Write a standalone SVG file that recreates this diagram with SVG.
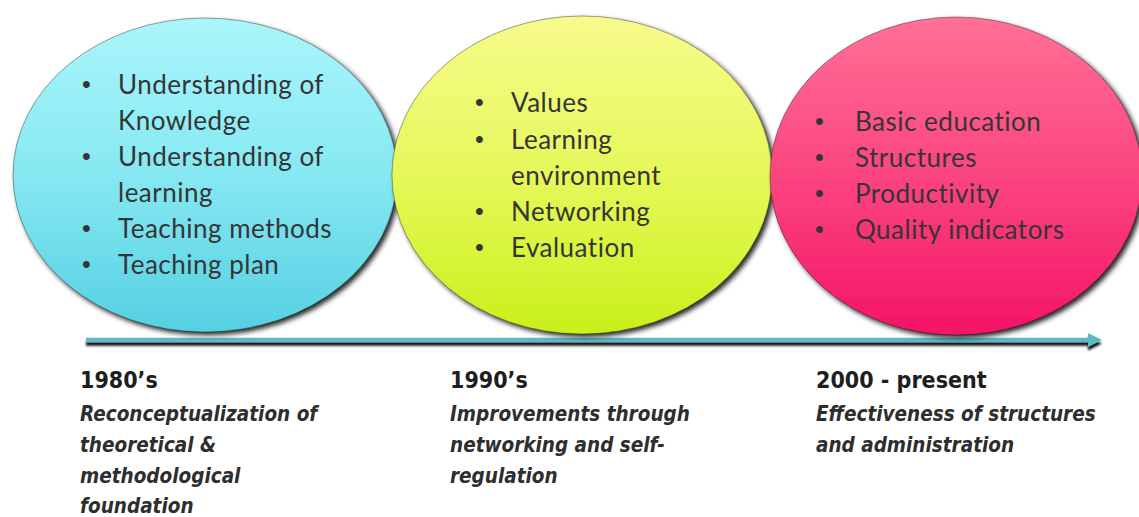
<svg xmlns="http://www.w3.org/2000/svg" width="1139" height="517" viewBox="0 0 1139 517">
<defs>
<linearGradient id="gCyan" x1="0" y1="0" x2="0" y2="1">
<stop offset="0" stop-color="#aaf6fb"/><stop offset="0.5" stop-color="#86e8f2"/><stop offset="1" stop-color="#55d0e2"/>
</linearGradient>
<linearGradient id="gYellow" x1="0" y1="0" x2="0" y2="1">
<stop offset="0" stop-color="#f7fb8c"/><stop offset="0.5" stop-color="#e6f85a"/><stop offset="1" stop-color="#c9f01a"/>
</linearGradient>
<linearGradient id="gPink" x1="0" y1="0" x2="0" y2="1">
<stop offset="0" stop-color="#ff7096"/><stop offset="0.5" stop-color="#fb4580"/><stop offset="1" stop-color="#f41468"/>
</linearGradient>
<filter id="shadow" x="-10%" y="-10%" width="120%" height="120%">
<feDropShadow dx="3" dy="3" stdDeviation="2.5" flood-color="#000" flood-opacity="0.85"/>
</filter>
<filter id="lineShadow" x="-5%" y="-100%" width="110%" height="300%">
<feDropShadow dx="0" dy="3.5" stdDeviation="1.3" flood-color="#000" flood-opacity="0.95"/>
</filter>
</defs>
<style>
.circ{stroke:#000;stroke-opacity:0.35;stroke-width:1}
.item{font-family:Lato,"Open Sans","Liberation Sans",sans-serif;font-size:26px;letter-spacing:0.5px;fill:#353535}
.bul{font-family:"Liberation Sans",sans-serif;font-size:25px;fill:#353535}
.head{font-family:"DejaVu Sans Condensed","DejaVu Sans","Liberation Sans",sans-serif;font-weight:bold;font-size:23px;fill:#1e1e1e}
.desc{font-family:"DejaVu Sans Condensed","DejaVu Sans","Liberation Sans",sans-serif;font-weight:bold;font-style:italic;font-size:20.5px;fill:#2e2e2e}
</style>
<g id="axis" filter="url(#lineShadow)">
<line x1="86" y1="340" x2="1092" y2="340" stroke="#5db7c6" stroke-width="4.5"/>
<polygon points="1088,333 1102,340 1088,347" fill="#5db7c6"/>
</g>
<g id="node-1980s">
<ellipse class="circ" cx="205" cy="175" rx="192" ry="157" fill="url(#gCyan)" filter="url(#shadow)"/>
<text class="bul" x="82" y="93">•</text><text class="item" x="118" y="94">Understanding of</text>
<text class="item" x="118" y="130">Knowledge</text>
<text class="bul" x="82" y="165">•</text><text class="item" x="118" y="166">Understanding of</text>
<text class="item" x="118" y="202">learning</text>
<text class="bul" x="82" y="237">•</text><text class="item" x="118" y="238">Teaching methods</text>
<text class="bul" x="82" y="273">•</text><text class="item" x="118" y="274">Teaching plan</text>
</g>
<g id="node-1990s">
<ellipse class="circ" cx="582" cy="175" rx="190" ry="159" fill="url(#gYellow)" filter="url(#shadow)"/>
<text class="bul" x="475" y="111">•</text><text class="item" x="511" y="112">Values</text>
<text class="bul" x="475" y="148">•</text><text class="item" x="511" y="149">Learning</text>
<text class="item" x="511" y="185">environment</text>
<text class="bul" x="475" y="220">•</text><text class="item" x="511" y="221">Networking</text>
<text class="bul" x="475" y="256">•</text><text class="item" x="511" y="257">Evaluation</text>
</g>
<g id="node-2000">
<ellipse class="circ" cx="956" cy="176" rx="186" ry="159" fill="url(#gPink)" filter="url(#shadow)"/>
<text class="bul" x="815" y="130">•</text><text class="item" x="855" y="131">Basic education</text>
<text class="bul" x="815" y="166">•</text><text class="item" x="855" y="167">Structures</text>
<text class="bul" x="815" y="202">•</text><text class="item" x="855" y="203">Productivity</text>
<text class="bul" x="815" y="238">•</text><text class="item" x="855" y="239">Quality indicators</text>
</g>
<g id="label-1980s">
<text class="head" x="80" y="388">1980’s</text>
<text class="desc" x="80" y="421">Reconceptualization of</text>
<text class="desc" x="80" y="452">theoretical &amp;</text>
<text class="desc" x="80" y="483">methodological</text>
<text class="desc" x="80" y="513">foundation</text>
</g>
<g id="label-1990s">
<text class="head" x="450" y="388">1990’s</text>
<text class="desc" x="450" y="421">Improvements through</text>
<text class="desc" x="450" y="452">networking and self-</text>
<text class="desc" x="450" y="483">regulation</text>
</g>
<g id="label-2000">
<text class="head" x="816" y="388">2000 - present</text>
<text class="desc" x="816" y="421">Effectiveness of structures</text>
<text class="desc" x="816" y="452">and administration</text>
</g>
</svg>
